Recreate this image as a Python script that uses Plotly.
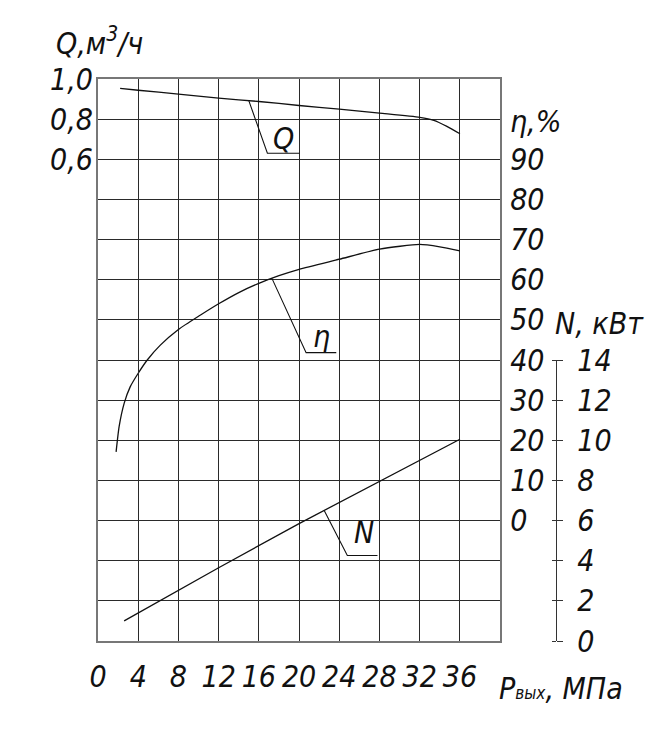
import numpy as np
import plotly.graph_objects as go

# ---- data ----
p_ticks = [0, 4, 8, 12, 16, 20, 24, 28, 32, 36]
p_labels = ["0", "4", "8", "12", "16", "20", "24", "28", "32", "36"]

q_p = [2.2, 4, 8, 12, 16, 20, 24, 28, 32, 33.4, 34.7, 36]
q_val = [0.953, 0.944, 0.925, 0.905, 0.888, 0.868, 0.850, 0.830, 0.809, 0.794, 0.764, 0.727]

eta_p = [1.8, 2.1, 2.6, 3.2, 4.0, 4.9, 6.2, 8.0, 10.2, 12, 14, 16, 18, 20, 24, 28, 32, 34, 36]
eta_val = [17.1, 23.4, 29.2, 33.3, 36.7, 40.0, 43.7, 47.6, 51.2, 54.0, 56.8, 59.1, 61.0, 62.6,
           65.1, 67.6, 68.8, 68.2, 67.2]

n_p = [2.6, 12, 20, 28, 36]
n_val = [1.0, 3.65, 5.85, 7.95, 10.05]

q_tickvals = [1.0, 0.8, 0.6]
q_ticktext = ["1,0", "0,8", "0,6"]
eta_tickvals = [0, 10, 20, 30, 40, 50, 60, 70, 80, 90]
n_tickvals = [0, 2, 4, 6, 8, 10, 12, 14]

FONT = "DejaVu Sans Condensed, Liberation Sans Narrow, sans-serif"
TICKF = dict(family=FONT, size=30, color="#111", style="italic")
GRID = "#2a2a2a"
BORDER = "#777777"

# page offset of the figure inside the browser page (default body margin)
OFF = 8
W, H = 666, 738
ML, MR, MT = 97.5 - OFF, 19, 79 - OFF
MB = H - (641.3 - OFF)
PW = W - ML - MR
PH = H - MT - MB


def pxx(px):
    return (px - OFF - ML) / PW


def pxy(py):
    return (H - MB - (py - OFF)) / PH


XD = pxx(500)
NPOS = pxx(556)

fig = go.Figure()

line = dict(color="#111", width=1.3, shape="spline", smoothing=0.6)
fig.add_trace(go.Scatter(x=q_p, y=q_val, yaxis="y2", mode="lines", line=line, hoverinfo="skip"))
fig.add_trace(go.Scatter(x=eta_p, y=eta_val, yaxis="y", mode="lines", line=line, hoverinfo="skip"))
fig.add_trace(go.Scatter(x=n_p, y=n_val, yaxis="y3", mode="lines",
                         line=dict(color="#111", width=1.3), hoverinfo="skip"))


# ---- leader lines to curve labels (anchored on the curves) ----
def leader(px, xs, ys, dx, dy, length, yaxis):
    y0 = float(np.interp(px, xs, ys))
    lx = [px, px + dx, px + dx + length]
    ly = [y0, y0 + dy, y0 + dy]
    fig.add_trace(go.Scatter(x=lx, y=ly, yaxis=yaxis, mode="lines",
                             line=dict(color="#111", width=1.1), hoverinfo="skip"))
    return y0


yq = leader(15.0, q_p, q_val, 1.85, -0.262, 3.2, "y2")
ye = leader(17.3, eta_p, eta_val, 3.4, -18.5, 3.0, "y")
yn = leader(22.5, n_p, n_val, 2.3, -2.25, 3.0, "y3")

lab = dict(family=FONT, size=30, color="#111", style="italic")
fig.add_annotation(x=18.5, y=yq - 0.19, xref="x", yref="y2", text="Q", showarrow=False, font=lab)
fig.add_annotation(x=22.2, y=ye - 14.5, xref="x", yref="y", text="η", showarrow=False, font=lab)
fig.add_annotation(x=26.5, y=yn - 1.1, xref="x", yref="y3", text="N", showarrow=False, font=lab)

# ---- axis titles ----
tf = dict(family=FONT, size=30, color="#111", style="italic")
fig.add_annotation(x=pxx(53), y=pxy(41), xref="paper", yref="paper",
                   text="Q,м<sup>3</sup>/ч", showarrow=False, xanchor="left", yanchor="middle", font=tf)
fig.add_annotation(x=pxx(508), y=pxy(122), xref="paper", yref="paper",
                   text="η,%", showarrow=False, xanchor="left", yanchor="middle", font=tf)
fig.add_annotation(x=pxx(553), y=pxy(324), xref="paper", yref="paper",
                   text="N, кВт", showarrow=False, xanchor="left", yanchor="middle", font=tf)
fig.add_annotation(x=pxx(497), y=pxy(689), xref="paper", yref="paper",
                   text="P<span style='font-size:17px'>вых</span>, МПа", showarrow=False,
                   xanchor="left", yanchor="middle", font=tf)

gridminor = dict(tickmode="linear", showgrid=True, gridcolor=GRID, gridwidth=1.1, ticks="")

fig.update_layout(
    width=W, height=H,
    margin=dict(l=ML, r=MR, t=MT, b=MB, autoexpand=False),
    paper_bgcolor="white", plot_bgcolor="rgba(0,0,0,0)",
    showlegend=False,
    xaxis=dict(domain=[0, XD], range=[0, 40], tickmode="array", tickvals=p_ticks, ticktext=p_labels,
               showgrid=True, gridcolor=GRID, gridwidth=1.1, zeroline=False,
               minor=dict(tick0=0, dtick=4, **gridminor),
               showline=True, linecolor=BORDER, linewidth=2, mirror=True, automargin=False,
               ticks="", tickfont=TICKF, ticklabelstandoff=8, anchor="y"),
    yaxis=dict(domain=[0, 1], range=[-30, 110], tickmode="array", tickvals=eta_tickvals,
               side="right", showgrid=True, gridcolor=GRID, gridwidth=1.1, zeroline=False,
               minor=dict(tick0=0, dtick=10, **gridminor),
               showline=True, linecolor=BORDER, linewidth=2, mirror=True, automargin=False,
               ticks="", tickfont=TICKF, ticklabelstandoff=2, anchor="x"),
    yaxis2=dict(range=[-1.8, 1.0], overlaying="y", side="left", tickmode="array",
                tickvals=q_tickvals, ticktext=q_ticktext, showgrid=False, zeroline=False,
                showline=False, ticks="", tickfont=TICKF, ticklabelstandoff=4, anchor="x",
                automargin=False),
    yaxis3=dict(domain=[0, 0.5], range=[0, 14], anchor="free", position=NPOS, side="right",
                tickmode="array", tickvals=n_tickvals, showgrid=False, zeroline=False,
                showline=True, linecolor="#333", linewidth=1.3, automargin=False,
                ticks="outside", ticklen=6, tickwidth=1.2, tickcolor="#333",
                tickfont=TICKF, ticklabelstandoff=8),
    yaxis4=dict(domain=[0, 0.5], range=[0, 14], overlaying="y3", anchor="free", position=NPOS,
                side="left", tickmode="array", tickvals=n_tickvals, showticklabels=False,
                showgrid=False, zeroline=False, showline=False, automargin=False,
                ticks="outside", ticklen=4, tickwidth=1.2, tickcolor="#333"),
)
fig.add_trace(go.Scatter(x=[None], y=[None], yaxis="y4", hoverinfo="skip"))

fig.write_html("out.html")
